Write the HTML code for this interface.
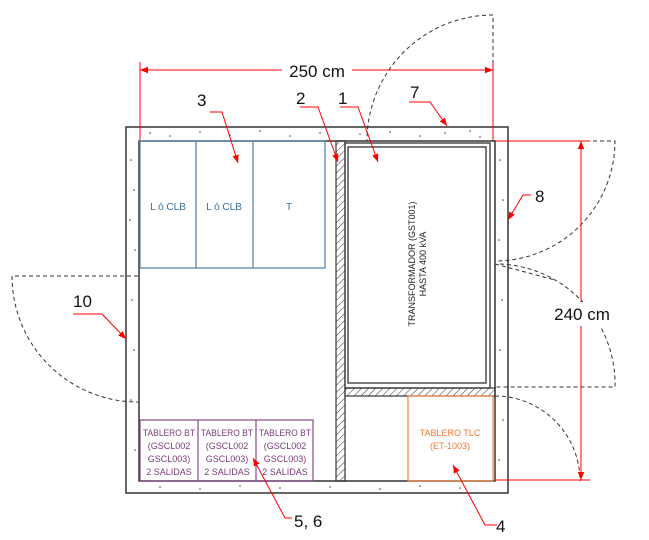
<!DOCTYPE html>
<html><head><meta charset="utf-8"><style>body{margin:0;background:#fff}svg{display:block}</style></head><body>
<svg width="649" height="540" viewBox="0 0 649 540" xmlns="http://www.w3.org/2000/svg" font-family="'Liberation Sans', sans-serif">
<defs>
<pattern id="h" width="5" height="5" patternUnits="userSpaceOnUse" patternTransform="rotate(45)"><line x1="0" y1="0" x2="0" y2="5" stroke="#333" stroke-width="1"/></pattern>
<marker id="a" viewBox="0 0 10 10" refX="10" refY="5" markerWidth="10" markerHeight="8" orient="auto" markerUnits="userSpaceOnUse"><path d="M0,1 L10,5 L0,9 z" fill="#f00"/></marker>
</defs>
<path d="M126,127 H508 V493 H126 Z M139,141 V481 H495 V141 Z" fill="#fff" fill-rule="evenodd" stroke="#333" stroke-width="1.5"/>
<g fill="#444">
<circle cx="150" cy="133" r="0.8"/><circle cx="170" cy="136" r="0.8"/><circle cx="200" cy="132" r="0.8"/><circle cx="230" cy="135" r="0.8"/><circle cx="260" cy="131" r="0.8"/><circle cx="290" cy="136" r="0.8"/><circle cx="320" cy="133" r="0.8"/><circle cx="360" cy="134" r="0.8"/><circle cx="390" cy="132" r="0.8"/><circle cx="420" cy="136" r="0.8"/><circle cx="445" cy="133" r="0.8"/><circle cx="470" cy="131" r="0.8"/><circle cx="480" cy="137" r="0.8"/>
<circle cx="131" cy="160" r="0.8"/><circle cx="134" cy="190" r="0.8"/><circle cx="130" cy="220" r="0.8"/><circle cx="135" cy="250" r="0.8"/><circle cx="132" cy="300" r="0.8"/><circle cx="134" cy="350" r="0.8"/><circle cx="131" cy="400" r="0.8"/><circle cx="135" cy="450" r="0.8"/>
<circle cx="500" cy="160" r="0.8"/><circle cx="503" cy="200" r="0.8"/><circle cx="499" cy="240" r="0.8"/><circle cx="502" cy="300" r="0.8"/><circle cx="500" cy="350" r="0.8"/><circle cx="503" cy="420" r="0.8"/><circle cx="499" cy="460" r="0.8"/>
<circle cx="160" cy="487" r="0.8"/><circle cx="200" cy="489" r="0.8"/><circle cx="240" cy="486" r="0.8"/><circle cx="280" cy="488" r="0.8"/><circle cx="330" cy="487" r="0.8"/><circle cx="380" cy="489" r="0.8"/><circle cx="420" cy="486" r="0.8"/><circle cx="460" cy="488" r="0.8"/>
</g>
<g fill="none" stroke="#5a88b0" stroke-width="1.3"><rect x="140" y="141" width="185" height="127"/><line x1="196" y1="141" x2="196" y2="268"/><line x1="253" y1="141" x2="253" y2="268"/></g>
<g fill="#3a6e9e" font-size="10" text-anchor="middle"><text x="168" y="210">L ó CLB</text><text x="224" y="210">L ó CLB</text><text x="289" y="210">T</text></g>
<rect x="336" y="141" width="9" height="340" fill="url(#h)" stroke="#333" stroke-width="1.2"/>
<rect x="345" y="388" width="150" height="8" fill="url(#h)" stroke="#333" stroke-width="1.2"/>
<rect x="345" y="143" width="145" height="245" fill="none" stroke="#333" stroke-width="1.3"/>
<rect x="348" y="147" width="138" height="236" fill="none" stroke="#333" stroke-width="1.3"/>
<g transform="translate(417,264) rotate(-90)" font-size="9" text-anchor="middle" fill="#222"><text y="-2">TRANSFORMADOR (GST001)</text><text y="9">HASTA 400 kVA</text></g>
<rect x="408" y="396" width="85" height="85" fill="none" stroke="#f08040" stroke-width="1.2"/>
<g fill="#f07830" font-size="9" text-anchor="middle"><text x="450" y="436">TABLERO TLC</text><text x="450" y="449">(ET-1003)</text></g>
<g fill="none" stroke="#8a4a8a" stroke-width="1.2"><rect x="140" y="420" width="173" height="61"/><line x1="198" y1="420" x2="198" y2="481"/><line x1="256" y1="420" x2="256" y2="481"/></g>
<g fill="#7a3a7a" font-size="9" text-anchor="middle">
<text x="169" y="436" textLength="52" lengthAdjust="spacingAndGlyphs">TABLERO BT</text><text x="169" y="449">(GSCL002</text><text x="169" y="462">GSCL003)</text><text x="169" y="475">2 SALIDAS</text>
<text x="227" y="436" textLength="52" lengthAdjust="spacingAndGlyphs">TABLERO BT</text><text x="227" y="449">(GSCL002</text><text x="227" y="462">GSCL003)</text><text x="227" y="475">2 SALIDAS</text>
<text x="285" y="436" textLength="52" lengthAdjust="spacingAndGlyphs">TABLERO BT</text><text x="285" y="449">(GSCL002</text><text x="285" y="462">GSCL003)</text><text x="285" y="475">2 SALIDAS</text>
</g>
<g fill="none" stroke="#333" stroke-width="1" stroke-dasharray="4,3">
<path d="M493,141 V15 A126,126 0 0 0 367,141"/>
<path d="M495,141 H615 A120,120 0 0 1 495,261"/>
<path d="M495,264 L555,280"/>
<path d="M500,264 A120,120 0 0 1 615,387 H495"/>
<path d="M495,396 A85,85 0 0 1 580,481"/>
<path d="M138,276 H12 A126,126 0 0 0 138,402"/>
</g>
<g stroke="#f00" stroke-width="1" fill="none">
<line x1="140" y1="62" x2="140" y2="140"/><line x1="493" y1="62" x2="493" y2="140"/>
<line x1="140" y1="70" x2="493" y2="70" marker-end="url(#a)"/>
<line x1="493" y1="70" x2="140" y2="70" marker-end="url(#a)"/>
<line x1="495" y1="141" x2="590" y2="141"/><line x1="495" y1="480" x2="590" y2="480"/>
<line x1="581" y1="480" x2="581" y2="141" marker-end="url(#a)"/>
<line x1="581" y1="141" x2="581" y2="480" marker-end="url(#a)"/>
</g>
<rect x="282" y="60" width="70" height="20" fill="#fff"/>
<text x="317" y="77" font-size="17" text-anchor="middle" fill="#111">250 cm</text>
<rect x="552" y="302" width="60" height="24" fill="#fff"/>
<text x="582" y="320" font-size="17" text-anchor="middle" fill="#111">240 cm</text>
<g stroke="#f00" stroke-width="1" fill="none">
<path d="M210,112 H222 L238,163" marker-end="url(#a)"/>
<path d="M300,107 H318 L338,162" marker-end="url(#a)"/>
<path d="M340,107 H358 L378,162" marker-end="url(#a)"/>
<path d="M409,102 H430 L447,126" marker-end="url(#a)"/>
<path d="M531,195 H523 L508,220" marker-end="url(#a)"/>
<path d="M73,314 H102 L126,339" marker-end="url(#a)"/>
<path d="M497,525 H485 L453,465" marker-end="url(#a)"/>
<path d="M292,518 H285 L253,458" marker-end="url(#a)"/>
</g>
<g font-size="17" fill="#111">
<text x="197" y="106">3</text><text x="296" y="104">2</text><text x="338" y="104">1</text><text x="410" y="98">7</text><text x="535" y="202">8</text><text x="73" y="307">10</text><text x="496" y="532">4</text><text x="294" y="527">5, 6</text>
</g>
</svg>
</body></html>
